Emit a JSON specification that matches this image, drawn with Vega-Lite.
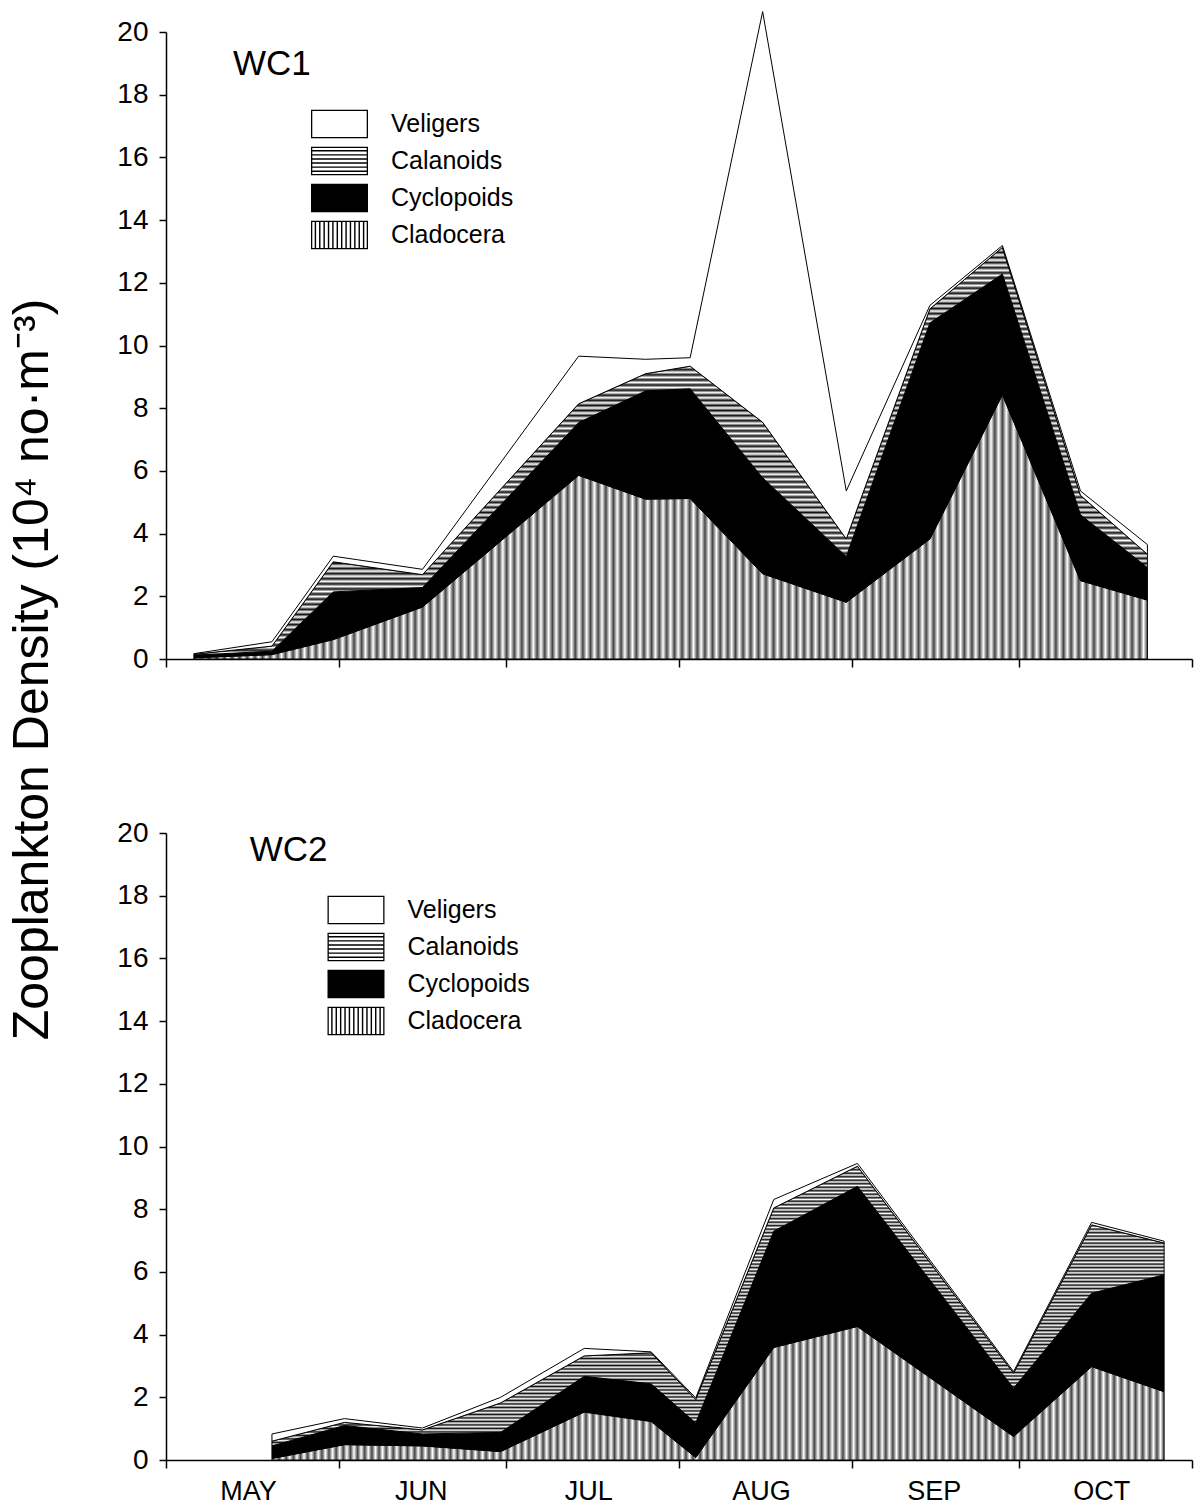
{
  "$schema": "https://vega.github.io/schema/vega-lite/v6.json",
  "padding": {"left": 7, "top": 9, "right": 3, "bottom": 0},
  "bounds": "flush",
  "spacing": 174,
  "resolve": {"scale": {"fill": "independent", "shape": "independent"}, "legend": {"fill": "independent", "shape": "independent"}},
  "datasets": {
    "taxa": [
      {"taxon": "Cladocera", "rank": 1},
      {"taxon": "Cyclopoids", "rank": 2},
      {"taxon": "Calanoids", "rank": 3},
      {"taxon": "Veligers", "rank": 4}
    ],
    "zoo": [
      {"site": "WC1", "date": "1990-05-06", "taxon": "Cladocera", "density": 0.04},
      {"site": "WC1", "date": "1990-05-06", "taxon": "Cyclopoids", "density": 0.08},
      {"site": "WC1", "date": "1990-05-06", "taxon": "Calanoids", "density": 0.03},
      {"site": "WC1", "date": "1990-05-06", "taxon": "Veligers", "density": 0.02},
      {"site": "WC1", "date": "1990-05-20", "taxon": "Cladocera", "density": 0.14},
      {"site": "WC1", "date": "1990-05-20", "taxon": "Cyclopoids", "density": 0.11},
      {"site": "WC1", "date": "1990-05-20", "taxon": "Calanoids", "density": 0.16},
      {"site": "WC1", "date": "1990-05-20", "taxon": "Veligers", "density": 0.14},
      {"site": "WC1", "date": "1990-05-31", "taxon": "Cladocera", "density": 0.62},
      {"site": "WC1", "date": "1990-05-31", "taxon": "Cyclopoids", "density": 1.52},
      {"site": "WC1", "date": "1990-05-31", "taxon": "Calanoids", "density": 0.96},
      {"site": "WC1", "date": "1990-05-31", "taxon": "Veligers", "density": 0.18},
      {"site": "WC1", "date": "1990-06-16", "taxon": "Cladocera", "density": 1.66},
      {"site": "WC1", "date": "1990-06-16", "taxon": "Cyclopoids", "density": 0.62},
      {"site": "WC1", "date": "1990-06-16", "taxon": "Calanoids", "density": 0.41},
      {"site": "WC1", "date": "1990-06-16", "taxon": "Veligers", "density": 0.17},
      {"site": "WC1", "date": "1990-07-14", "taxon": "Cladocera", "density": 5.86},
      {"site": "WC1", "date": "1990-07-14", "taxon": "Cyclopoids", "density": 1.68},
      {"site": "WC1", "date": "1990-07-14", "taxon": "Calanoids", "density": 0.6},
      {"site": "WC1", "date": "1990-07-14", "taxon": "Veligers", "density": 1.52},
      {"site": "WC1", "date": "1990-07-26", "taxon": "Cladocera", "density": 5.1},
      {"site": "WC1", "date": "1990-07-26", "taxon": "Cyclopoids", "density": 3.45},
      {"site": "WC1", "date": "1990-07-26", "taxon": "Calanoids", "density": 0.55},
      {"site": "WC1", "date": "1990-07-26", "taxon": "Veligers", "density": 0.46},
      {"site": "WC1", "date": "1990-08-03", "taxon": "Cladocera", "density": 5.12},
      {"site": "WC1", "date": "1990-08-03", "taxon": "Cyclopoids", "density": 3.5},
      {"site": "WC1", "date": "1990-08-03", "taxon": "Calanoids", "density": 0.72},
      {"site": "WC1", "date": "1990-08-03", "taxon": "Veligers", "density": 0.27},
      {"site": "WC1", "date": "1990-08-16", "taxon": "Cladocera", "density": 2.72},
      {"site": "WC1", "date": "1990-08-16", "taxon": "Cyclopoids", "density": 3.06},
      {"site": "WC1", "date": "1990-08-16", "taxon": "Calanoids", "density": 1.77},
      {"site": "WC1", "date": "1990-08-16", "taxon": "Veligers", "density": 13.1},
      {"site": "WC1", "date": "1990-08-31", "taxon": "Cladocera", "density": 1.81},
      {"site": "WC1", "date": "1990-08-31", "taxon": "Cyclopoids", "density": 1.46},
      {"site": "WC1", "date": "1990-08-31", "taxon": "Calanoids", "density": 0.56},
      {"site": "WC1", "date": "1990-08-31", "taxon": "Veligers", "density": 1.53},
      {"site": "WC1", "date": "1990-09-15", "taxon": "Cladocera", "density": 3.83},
      {"site": "WC1", "date": "1990-09-15", "taxon": "Cyclopoids", "density": 6.89},
      {"site": "WC1", "date": "1990-09-15", "taxon": "Calanoids", "density": 0.45},
      {"site": "WC1", "date": "1990-09-15", "taxon": "Veligers", "density": 0.11},
      {"site": "WC1", "date": "1990-09-28", "taxon": "Cladocera", "density": 8.43},
      {"site": "WC1", "date": "1990-09-28", "taxon": "Cyclopoids", "density": 3.85},
      {"site": "WC1", "date": "1990-09-28", "taxon": "Calanoids", "density": 0.85},
      {"site": "WC1", "date": "1990-09-28", "taxon": "Veligers", "density": 0.06},
      {"site": "WC1", "date": "1990-10-12", "taxon": "Cladocera", "density": 2.5},
      {"site": "WC1", "date": "1990-10-12", "taxon": "Cyclopoids", "density": 2.1},
      {"site": "WC1", "date": "1990-10-12", "taxon": "Calanoids", "density": 0.62},
      {"site": "WC1", "date": "1990-10-12", "taxon": "Veligers", "density": 0.14},
      {"site": "WC1", "date": "1990-10-24", "taxon": "Cladocera", "density": 1.88},
      {"site": "WC1", "date": "1990-10-24", "taxon": "Cyclopoids", "density": 1.04},
      {"site": "WC1", "date": "1990-10-24", "taxon": "Calanoids", "density": 0.42},
      {"site": "WC1", "date": "1990-10-24", "taxon": "Veligers", "density": 0.31},
      {"site": "WC2", "date": "1990-05-20", "taxon": "Cladocera", "density": 0.05},
      {"site": "WC2", "date": "1990-05-20", "taxon": "Cyclopoids", "density": 0.4},
      {"site": "WC2", "date": "1990-05-20", "taxon": "Calanoids", "density": 0.15},
      {"site": "WC2", "date": "1990-05-20", "taxon": "Veligers", "density": 0.23},
      {"site": "WC2", "date": "1990-06-02", "taxon": "Cladocera", "density": 0.49},
      {"site": "WC2", "date": "1990-06-02", "taxon": "Cyclopoids", "density": 0.61},
      {"site": "WC2", "date": "1990-06-02", "taxon": "Calanoids", "density": 0.1},
      {"site": "WC2", "date": "1990-06-02", "taxon": "Veligers", "density": 0.12},
      {"site": "WC2", "date": "1990-06-16", "taxon": "Cladocera", "density": 0.45},
      {"site": "WC2", "date": "1990-06-16", "taxon": "Cyclopoids", "density": 0.38},
      {"site": "WC2", "date": "1990-06-16", "taxon": "Calanoids", "density": 0.13},
      {"site": "WC2", "date": "1990-06-16", "taxon": "Veligers", "density": 0.06},
      {"site": "WC2", "date": "1990-06-30", "taxon": "Cladocera", "density": 0.27},
      {"site": "WC2", "date": "1990-06-30", "taxon": "Cyclopoids", "density": 0.61},
      {"site": "WC2", "date": "1990-06-30", "taxon": "Calanoids", "density": 0.94},
      {"site": "WC2", "date": "1990-06-30", "taxon": "Veligers", "density": 0.18},
      {"site": "WC2", "date": "1990-07-15", "taxon": "Cladocera", "density": 1.53},
      {"site": "WC2", "date": "1990-07-15", "taxon": "Cyclopoids", "density": 1.14},
      {"site": "WC2", "date": "1990-07-15", "taxon": "Calanoids", "density": 0.65},
      {"site": "WC2", "date": "1990-07-15", "taxon": "Veligers", "density": 0.24},
      {"site": "WC2", "date": "1990-07-27", "taxon": "Cladocera", "density": 1.23},
      {"site": "WC2", "date": "1990-07-27", "taxon": "Cyclopoids", "density": 1.2},
      {"site": "WC2", "date": "1990-07-27", "taxon": "Calanoids", "density": 0.99},
      {"site": "WC2", "date": "1990-07-27", "taxon": "Veligers", "density": 0.03},
      {"site": "WC2", "date": "1990-08-04", "taxon": "Cladocera", "density": 0.08},
      {"site": "WC2", "date": "1990-08-04", "taxon": "Cyclopoids", "density": 1.1},
      {"site": "WC2", "date": "1990-08-04", "taxon": "Calanoids", "density": 0.75},
      {"site": "WC2", "date": "1990-08-04", "taxon": "Veligers", "density": 0.05},
      {"site": "WC2", "date": "1990-08-18", "taxon": "Cladocera", "density": 3.59},
      {"site": "WC2", "date": "1990-08-18", "taxon": "Cyclopoids", "density": 3.71},
      {"site": "WC2", "date": "1990-08-18", "taxon": "Calanoids", "density": 0.74},
      {"site": "WC2", "date": "1990-08-18", "taxon": "Veligers", "density": 0.27},
      {"site": "WC2", "date": "1990-09-02", "taxon": "Cladocera", "density": 4.26},
      {"site": "WC2", "date": "1990-09-02", "taxon": "Cyclopoids", "density": 4.47},
      {"site": "WC2", "date": "1990-09-02", "taxon": "Calanoids", "density": 0.64},
      {"site": "WC2", "date": "1990-09-02", "taxon": "Veligers", "density": 0.09},
      {"site": "WC2", "date": "1990-09-30", "taxon": "Cladocera", "density": 0.75},
      {"site": "WC2", "date": "1990-09-30", "taxon": "Cyclopoids", "density": 1.54},
      {"site": "WC2", "date": "1990-09-30", "taxon": "Calanoids", "density": 0.48},
      {"site": "WC2", "date": "1990-09-30", "taxon": "Veligers", "density": 0.05},
      {"site": "WC2", "date": "1990-10-14", "taxon": "Cladocera", "density": 2.98},
      {"site": "WC2", "date": "1990-10-14", "taxon": "Cyclopoids", "density": 2.34},
      {"site": "WC2", "date": "1990-10-14", "taxon": "Calanoids", "density": 2.18},
      {"site": "WC2", "date": "1990-10-14", "taxon": "Veligers", "density": 0.08},
      {"site": "WC2", "date": "1990-10-27", "taxon": "Cladocera", "density": 2.18},
      {"site": "WC2", "date": "1990-10-27", "taxon": "Cyclopoids", "density": 3.73},
      {"site": "WC2", "date": "1990-10-27", "taxon": "Calanoids", "density": 1.01},
      {"site": "WC2", "date": "1990-10-27", "taxon": "Veligers", "density": 0.06}
    ]
  },
  "config": {
    "view": {"stroke": null},
    "font": "Liberation Sans",
    "axis": {"grid": false, "domainColor": "#000", "domainWidth": 1.5, "tickColor": "#000", "tickWidth": 1.5, "labelColor": "#000", "labelFont": "Liberation Sans", "titleFont": "Liberation Sans", "titleColor": "#000", "titleFontWeight": "normal", "labelFlush": false, "labelOverlap": false},
    "legend": {"symbolStrokeColor": "#000", "symbolStrokeWidth": 1.2, "symbolOpacity": 1, "symbolSize": 812, "labelFontSize": 25, "labelFont": "Liberation Sans", "labelColor": "#000", "labelOffset": 36.5, "rowPadding": 3, "padding": 0}
  },
  "vconcat": [
    {
      "width": 1026,
      "height": 627,
      "layer": [
        {
          "data": {"name": "zoo"},
          "transform": [
            {"filter": {"field": "site", "equal": "WC1"}},
            {"lookup": "taxon", "from": {"data": {"name": "taxa"}, "key": "taxon", "fields": ["rank"]}}
          ],
          "mark": {"type": "area", "interpolate": "linear", "stroke": "#000", "strokeWidth": 1, "opacity": 1},
          "encoding": {
            "x": {
              "field": "date", "type": "temporal",
              "scale": {"type": "utc", "domain": [{"year": 1990, "month": 5, "date": 1, "utc": true}, {"year": 1990, "month": 11, "date": 1, "utc": true}]},
              "axis": {
                "title": null, "labels": false, "tickSize": 8,
                "values": [{"year": 1990, "month": 5, "date": 1, "utc": true}, {"year": 1990, "month": 6, "date": 1, "utc": true}, {"year": 1990, "month": 7, "date": 1, "utc": true}, {"year": 1990, "month": 8, "date": 1, "utc": true}, {"year": 1990, "month": 9, "date": 1, "utc": true}, {"year": 1990, "month": 10, "date": 1, "utc": true}, {"year": 1990, "month": 11, "date": 1, "utc": true}]
              }
            },
            "y": {
              "field": "density", "type": "quantitative", "stack": "zero",
              "scale": {"domain": [0, 20], "nice": false},
              "axis": {
                "values": [0,1,2,3,4,5,6,7,8,9,10,11,12,13,14,15,16,17,18,19,20],
                "labelExpr": "datum.value % 2 === 0 ? datum.label : ''",
                "tickSize": 7, "labelPadding": 11, "labelFontSize": 28,
                "title": "Zooplankton Density (10⁴ no·m⁻³)",
                "titleFontSize": 50, "titlePadding": 59, "titleY": 637
              }
            },
            "detail": {"field": "taxon", "type": "nominal"},
            "order": {"field": "rank", "type": "quantitative", "sort": "ascending"},
            "fill": {"condition": [
              {"test": "datum.taxon === 'Calanoids'", "value": {"gradient": "linear", "x1": 0, "y1": 0, "x2": 0, "y2": 1, "stops": [
                {"offset":0,"color":"#111"},{"offset":0.00625,"color":"#fff"},{"offset":0.0125,"color":"#111"},{"offset":0.01875,"color":"#fff"},{"offset":0.025,"color":"#111"},{"offset":0.03125,"color":"#fff"},{"offset":0.0375,"color":"#111"},{"offset":0.04375,"color":"#fff"},
                {"offset":0.05,"color":"#111"},{"offset":0.05625,"color":"#fff"},{"offset":0.0625,"color":"#111"},{"offset":0.06875,"color":"#fff"},{"offset":0.075,"color":"#111"},{"offset":0.08125,"color":"#fff"},{"offset":0.0875,"color":"#111"},{"offset":0.09375,"color":"#fff"},
                {"offset":0.1,"color":"#111"},{"offset":0.10625,"color":"#fff"},{"offset":0.1125,"color":"#111"},{"offset":0.11875,"color":"#fff"},{"offset":0.125,"color":"#111"},{"offset":0.13125,"color":"#fff"},{"offset":0.1375,"color":"#111"},{"offset":0.14375,"color":"#fff"},
                {"offset":0.15,"color":"#111"},{"offset":0.15625,"color":"#fff"},{"offset":0.1625,"color":"#111"},{"offset":0.16875,"color":"#fff"},{"offset":0.175,"color":"#111"},{"offset":0.18125,"color":"#fff"},{"offset":0.1875,"color":"#111"},{"offset":0.19375,"color":"#fff"},
                {"offset":0.2,"color":"#111"},{"offset":0.20625,"color":"#fff"},{"offset":0.2125,"color":"#111"},{"offset":0.21875,"color":"#fff"},{"offset":0.225,"color":"#111"},{"offset":0.23125,"color":"#fff"},{"offset":0.2375,"color":"#111"},{"offset":0.24375,"color":"#fff"},
                {"offset":0.25,"color":"#111"},{"offset":0.25625,"color":"#fff"},{"offset":0.2625,"color":"#111"},{"offset":0.26875,"color":"#fff"},{"offset":0.275,"color":"#111"},{"offset":0.28125,"color":"#fff"},{"offset":0.2875,"color":"#111"},{"offset":0.29375,"color":"#fff"},
                {"offset":0.3,"color":"#111"},{"offset":0.30625,"color":"#fff"},{"offset":0.3125,"color":"#111"},{"offset":0.31875,"color":"#fff"},{"offset":0.325,"color":"#111"},{"offset":0.33125,"color":"#fff"},{"offset":0.3375,"color":"#111"},{"offset":0.34375,"color":"#fff"},
                {"offset":0.35,"color":"#111"},{"offset":0.35625,"color":"#fff"},{"offset":0.3625,"color":"#111"},{"offset":0.36875,"color":"#fff"},{"offset":0.375,"color":"#111"},{"offset":0.38125,"color":"#fff"},{"offset":0.3875,"color":"#111"},{"offset":0.39375,"color":"#fff"},
                {"offset":0.4,"color":"#111"},{"offset":0.40625,"color":"#fff"},{"offset":0.4125,"color":"#111"},{"offset":0.41875,"color":"#fff"},{"offset":0.425,"color":"#111"},{"offset":0.43125,"color":"#fff"},{"offset":0.4375,"color":"#111"},{"offset":0.44375,"color":"#fff"},
                {"offset":0.45,"color":"#111"},{"offset":0.45625,"color":"#fff"},{"offset":0.4625,"color":"#111"},{"offset":0.46875,"color":"#fff"},{"offset":0.475,"color":"#111"},{"offset":0.48125,"color":"#fff"},{"offset":0.4875,"color":"#111"},{"offset":0.49375,"color":"#fff"},
                {"offset":0.5,"color":"#111"},{"offset":0.50625,"color":"#fff"},{"offset":0.5125,"color":"#111"},{"offset":0.51875,"color":"#fff"},{"offset":0.525,"color":"#111"},{"offset":0.53125,"color":"#fff"},{"offset":0.5375,"color":"#111"},{"offset":0.54375,"color":"#fff"},
                {"offset":0.55,"color":"#111"},{"offset":0.55625,"color":"#fff"},{"offset":0.5625,"color":"#111"},{"offset":0.56875,"color":"#fff"},{"offset":0.575,"color":"#111"},{"offset":0.58125,"color":"#fff"},{"offset":0.5875,"color":"#111"},{"offset":0.59375,"color":"#fff"},
                {"offset":0.6,"color":"#111"},{"offset":0.60625,"color":"#fff"},{"offset":0.6125,"color":"#111"},{"offset":0.61875,"color":"#fff"},{"offset":0.625,"color":"#111"},{"offset":0.63125,"color":"#fff"},{"offset":0.6375,"color":"#111"},{"offset":0.64375,"color":"#fff"},
                {"offset":0.65,"color":"#111"},{"offset":0.65625,"color":"#fff"},{"offset":0.6625,"color":"#111"},{"offset":0.66875,"color":"#fff"},{"offset":0.675,"color":"#111"},{"offset":0.68125,"color":"#fff"},{"offset":0.6875,"color":"#111"},{"offset":0.69375,"color":"#fff"},
                {"offset":0.7,"color":"#111"},{"offset":0.70625,"color":"#fff"},{"offset":0.7125,"color":"#111"},{"offset":0.71875,"color":"#fff"},{"offset":0.725,"color":"#111"},{"offset":0.73125,"color":"#fff"},{"offset":0.7375,"color":"#111"},{"offset":0.74375,"color":"#fff"},
                {"offset":0.75,"color":"#111"},{"offset":0.75625,"color":"#fff"},{"offset":0.7625,"color":"#111"},{"offset":0.76875,"color":"#fff"},{"offset":0.775,"color":"#111"},{"offset":0.78125,"color":"#fff"},{"offset":0.7875,"color":"#111"},{"offset":0.79375,"color":"#fff"},
                {"offset":0.8,"color":"#111"},{"offset":0.80625,"color":"#fff"},{"offset":0.8125,"color":"#111"},{"offset":0.81875,"color":"#fff"},{"offset":0.825,"color":"#111"},{"offset":0.83125,"color":"#fff"},{"offset":0.8375,"color":"#111"},{"offset":0.84375,"color":"#fff"},
                {"offset":0.85,"color":"#111"},{"offset":0.85625,"color":"#fff"},{"offset":0.8625,"color":"#111"},{"offset":0.86875,"color":"#fff"},{"offset":0.875,"color":"#111"},{"offset":0.88125,"color":"#fff"},{"offset":0.8875,"color":"#111"},{"offset":0.89375,"color":"#fff"},
                {"offset":0.9,"color":"#111"},{"offset":0.90625,"color":"#fff"},{"offset":0.9125,"color":"#111"},{"offset":0.91875,"color":"#fff"},{"offset":0.925,"color":"#111"},{"offset":0.93125,"color":"#fff"},{"offset":0.9375,"color":"#111"},{"offset":0.94375,"color":"#fff"},
                {"offset":0.95,"color":"#111"},{"offset":0.95625,"color":"#fff"},{"offset":0.9625,"color":"#111"},{"offset":0.96875,"color":"#fff"},{"offset":0.975,"color":"#111"},{"offset":0.98125,"color":"#fff"},{"offset":0.9875,"color":"#111"},{"offset":0.99375,"color":"#fff"},
                {"offset":1,"color":"#111"}
              ]}},
              {"test": "datum.taxon === 'Cladocera'", "value": {"gradient": "linear", "x1": 0, "y1": 0, "x2": 1, "y2": 0, "stops": [
                {"offset":0,"color":"#444"},{"offset":0.004,"color":"#fff"},{"offset":0.008,"color":"#444"},{"offset":0.012,"color":"#fff"},{"offset":0.016,"color":"#444"},{"offset":0.02,"color":"#fff"},{"offset":0.024,"color":"#444"},{"offset":0.028,"color":"#fff"},{"offset":0.032,"color":"#444"},{"offset":0.036,"color":"#fff"},
                {"offset":0.04,"color":"#444"},{"offset":0.044,"color":"#fff"},{"offset":0.048,"color":"#444"},{"offset":0.052,"color":"#fff"},{"offset":0.056,"color":"#444"},{"offset":0.06,"color":"#fff"},{"offset":0.064,"color":"#444"},{"offset":0.068,"color":"#fff"},{"offset":0.072,"color":"#444"},{"offset":0.076,"color":"#fff"},
                {"offset":0.08,"color":"#444"},{"offset":0.084,"color":"#fff"},{"offset":0.088,"color":"#444"},{"offset":0.092,"color":"#fff"},{"offset":0.096,"color":"#444"},{"offset":0.1,"color":"#fff"},{"offset":0.104,"color":"#444"},{"offset":0.108,"color":"#fff"},{"offset":0.112,"color":"#444"},{"offset":0.116,"color":"#fff"},
                {"offset":0.12,"color":"#444"},{"offset":0.124,"color":"#fff"},{"offset":0.128,"color":"#444"},{"offset":0.132,"color":"#fff"},{"offset":0.136,"color":"#444"},{"offset":0.14,"color":"#fff"},{"offset":0.144,"color":"#444"},{"offset":0.148,"color":"#fff"},{"offset":0.152,"color":"#444"},{"offset":0.156,"color":"#fff"},
                {"offset":0.16,"color":"#444"},{"offset":0.164,"color":"#fff"},{"offset":0.168,"color":"#444"},{"offset":0.172,"color":"#fff"},{"offset":0.176,"color":"#444"},{"offset":0.18,"color":"#fff"},{"offset":0.184,"color":"#444"},{"offset":0.188,"color":"#fff"},{"offset":0.192,"color":"#444"},{"offset":0.196,"color":"#fff"},
                {"offset":0.2,"color":"#444"},{"offset":0.204,"color":"#fff"},{"offset":0.208,"color":"#444"},{"offset":0.212,"color":"#fff"},{"offset":0.216,"color":"#444"},{"offset":0.22,"color":"#fff"},{"offset":0.224,"color":"#444"},{"offset":0.228,"color":"#fff"},{"offset":0.232,"color":"#444"},{"offset":0.236,"color":"#fff"},
                {"offset":0.24,"color":"#444"},{"offset":0.244,"color":"#fff"},{"offset":0.248,"color":"#444"},{"offset":0.252,"color":"#fff"},{"offset":0.256,"color":"#444"},{"offset":0.26,"color":"#fff"},{"offset":0.264,"color":"#444"},{"offset":0.268,"color":"#fff"},{"offset":0.272,"color":"#444"},{"offset":0.276,"color":"#fff"},
                {"offset":0.28,"color":"#444"},{"offset":0.284,"color":"#fff"},{"offset":0.288,"color":"#444"},{"offset":0.292,"color":"#fff"},{"offset":0.296,"color":"#444"},{"offset":0.3,"color":"#fff"},{"offset":0.304,"color":"#444"},{"offset":0.308,"color":"#fff"},{"offset":0.312,"color":"#444"},{"offset":0.316,"color":"#fff"},
                {"offset":0.32,"color":"#444"},{"offset":0.324,"color":"#fff"},{"offset":0.328,"color":"#444"},{"offset":0.332,"color":"#fff"},{"offset":0.336,"color":"#444"},{"offset":0.34,"color":"#fff"},{"offset":0.344,"color":"#444"},{"offset":0.348,"color":"#fff"},{"offset":0.352,"color":"#444"},{"offset":0.356,"color":"#fff"},
                {"offset":0.36,"color":"#444"},{"offset":0.364,"color":"#fff"},{"offset":0.368,"color":"#444"},{"offset":0.372,"color":"#fff"},{"offset":0.376,"color":"#444"},{"offset":0.38,"color":"#fff"},{"offset":0.384,"color":"#444"},{"offset":0.388,"color":"#fff"},{"offset":0.392,"color":"#444"},{"offset":0.396,"color":"#fff"},
                {"offset":0.4,"color":"#444"},{"offset":0.404,"color":"#fff"},{"offset":0.408,"color":"#444"},{"offset":0.412,"color":"#fff"},{"offset":0.416,"color":"#444"},{"offset":0.42,"color":"#fff"},{"offset":0.424,"color":"#444"},{"offset":0.428,"color":"#fff"},{"offset":0.432,"color":"#444"},{"offset":0.436,"color":"#fff"},
                {"offset":0.44,"color":"#444"},{"offset":0.444,"color":"#fff"},{"offset":0.448,"color":"#444"},{"offset":0.452,"color":"#fff"},{"offset":0.456,"color":"#444"},{"offset":0.46,"color":"#fff"},{"offset":0.464,"color":"#444"},{"offset":0.468,"color":"#fff"},{"offset":0.472,"color":"#444"},{"offset":0.476,"color":"#fff"},
                {"offset":0.48,"color":"#444"},{"offset":0.484,"color":"#fff"},{"offset":0.488,"color":"#444"},{"offset":0.492,"color":"#fff"},{"offset":0.496,"color":"#444"},{"offset":0.5,"color":"#fff"},{"offset":0.504,"color":"#444"},{"offset":0.508,"color":"#fff"},{"offset":0.512,"color":"#444"},{"offset":0.516,"color":"#fff"},
                {"offset":0.52,"color":"#444"},{"offset":0.524,"color":"#fff"},{"offset":0.528,"color":"#444"},{"offset":0.532,"color":"#fff"},{"offset":0.536,"color":"#444"},{"offset":0.54,"color":"#fff"},{"offset":0.544,"color":"#444"},{"offset":0.548,"color":"#fff"},{"offset":0.552,"color":"#444"},{"offset":0.556,"color":"#fff"},
                {"offset":0.56,"color":"#444"},{"offset":0.564,"color":"#fff"},{"offset":0.568,"color":"#444"},{"offset":0.572,"color":"#fff"},{"offset":0.576,"color":"#444"},{"offset":0.58,"color":"#fff"},{"offset":0.584,"color":"#444"},{"offset":0.588,"color":"#fff"},{"offset":0.592,"color":"#444"},{"offset":0.596,"color":"#fff"},
                {"offset":0.6,"color":"#444"},{"offset":0.604,"color":"#fff"},{"offset":0.608,"color":"#444"},{"offset":0.612,"color":"#fff"},{"offset":0.616,"color":"#444"},{"offset":0.62,"color":"#fff"},{"offset":0.624,"color":"#444"},{"offset":0.628,"color":"#fff"},{"offset":0.632,"color":"#444"},{"offset":0.636,"color":"#fff"},
                {"offset":0.64,"color":"#444"},{"offset":0.644,"color":"#fff"},{"offset":0.648,"color":"#444"},{"offset":0.652,"color":"#fff"},{"offset":0.656,"color":"#444"},{"offset":0.66,"color":"#fff"},{"offset":0.664,"color":"#444"},{"offset":0.668,"color":"#fff"},{"offset":0.672,"color":"#444"},{"offset":0.676,"color":"#fff"},
                {"offset":0.68,"color":"#444"},{"offset":0.684,"color":"#fff"},{"offset":0.688,"color":"#444"},{"offset":0.692,"color":"#fff"},{"offset":0.696,"color":"#444"},{"offset":0.7,"color":"#fff"},{"offset":0.704,"color":"#444"},{"offset":0.708,"color":"#fff"},{"offset":0.712,"color":"#444"},{"offset":0.716,"color":"#fff"},
                {"offset":0.72,"color":"#444"},{"offset":0.724,"color":"#fff"},{"offset":0.728,"color":"#444"},{"offset":0.732,"color":"#fff"},{"offset":0.736,"color":"#444"},{"offset":0.74,"color":"#fff"},{"offset":0.744,"color":"#444"},{"offset":0.748,"color":"#fff"},{"offset":0.752,"color":"#444"},{"offset":0.756,"color":"#fff"},
                {"offset":0.76,"color":"#444"},{"offset":0.764,"color":"#fff"},{"offset":0.768,"color":"#444"},{"offset":0.772,"color":"#fff"},{"offset":0.776,"color":"#444"},{"offset":0.78,"color":"#fff"},{"offset":0.784,"color":"#444"},{"offset":0.788,"color":"#fff"},{"offset":0.792,"color":"#444"},{"offset":0.796,"color":"#fff"},
                {"offset":0.8,"color":"#444"},{"offset":0.804,"color":"#fff"},{"offset":0.808,"color":"#444"},{"offset":0.812,"color":"#fff"},{"offset":0.816,"color":"#444"},{"offset":0.82,"color":"#fff"},{"offset":0.824,"color":"#444"},{"offset":0.828,"color":"#fff"},{"offset":0.832,"color":"#444"},{"offset":0.836,"color":"#fff"},
                {"offset":0.84,"color":"#444"},{"offset":0.844,"color":"#fff"},{"offset":0.848,"color":"#444"},{"offset":0.852,"color":"#fff"},{"offset":0.856,"color":"#444"},{"offset":0.86,"color":"#fff"},{"offset":0.864,"color":"#444"},{"offset":0.868,"color":"#fff"},{"offset":0.872,"color":"#444"},{"offset":0.876,"color":"#fff"},
                {"offset":0.88,"color":"#444"},{"offset":0.884,"color":"#fff"},{"offset":0.888,"color":"#444"},{"offset":0.892,"color":"#fff"},{"offset":0.896,"color":"#444"},{"offset":0.9,"color":"#fff"},{"offset":0.904,"color":"#444"},{"offset":0.908,"color":"#fff"},{"offset":0.912,"color":"#444"},{"offset":0.916,"color":"#fff"},
                {"offset":0.92,"color":"#444"},{"offset":0.924,"color":"#fff"},{"offset":0.928,"color":"#444"},{"offset":0.932,"color":"#fff"},{"offset":0.936,"color":"#444"},{"offset":0.94,"color":"#fff"},{"offset":0.944,"color":"#444"},{"offset":0.948,"color":"#fff"},{"offset":0.952,"color":"#444"},{"offset":0.956,"color":"#fff"},
                {"offset":0.96,"color":"#444"},{"offset":0.964,"color":"#fff"},{"offset":0.968,"color":"#444"},{"offset":0.972,"color":"#fff"},{"offset":0.976,"color":"#444"},{"offset":0.98,"color":"#fff"},{"offset":0.984,"color":"#444"},{"offset":0.988,"color":"#fff"},{"offset":0.992,"color":"#444"},{"offset":0.996,"color":"#fff"},
                {"offset":1,"color":"#444"}
              ]}},
              {"test": "datum.taxon === 'Cyclopoids'", "value": "#000"}
            ], "value": "#fff"}
          }
        },
        {
          "data": {"name": "zoo"},
          "transform": [{"filter": {"field": "site", "equal": "WC1"}}],
          "mark": {"type": "point", "filled": false, "color": "#000", "strokeWidth": 1.2, "opacity": 0},
          "encoding": {
            "x": {"field": "date", "type": "temporal", "scale": {"type": "utc", "domain": [{"year": 1990, "month": 5, "date": 1, "utc": true}, {"year": 1990, "month": 11, "date": 1, "utc": true}]}},
            "y": {"field": "density", "type": "quantitative", "scale": {"domain": [0, 20], "nice": false}},
            "fill": {
              "field": "taxon", "type": "nominal",
              "scale": {"domain": ["Veligers", "Calanoids", "Cyclopoids", "Cladocera"], "range": ["#000", "#000", "#000", "#000"]},
              "legend": {"title": null, "orient": "none", "legendX": 158.5, "legendY": 77, "direction": "vertical", "symbolStrokeColor": "#000", "symbolStrokeWidth": 1.2}
            },
            "shape": {
              "field": "taxon", "type": "nominal",
              "scale": {"domain": ["Veligers", "Calanoids", "Cyclopoids", "Cladocera"], "range": [
                "M-2,-1H2V1H-2Z M-1.91,-0.91V0.91H1.91V-0.91Z",
                "M-2,-1H2V1H-2Z M-1.91,-0.91V0.91H1.91V-0.91Z M-1.91,-0.764H1.91V-0.664H-1.91Z M-1.91,-0.479H1.91V-0.379H-1.91Z M-1.91,-0.193H1.91V-0.093H-1.91Z M-1.91,0.093H1.91V0.193H-1.91Z M-1.91,0.379H1.91V0.479H-1.91Z M-1.91,0.664H1.91V0.764H-1.91Z",
                "M-2,-1H2V1H-2Z",
                "M-2,-1H2V1H-2Z M-1.91,-0.91V0.91H1.91V-0.91Z M-1.742,-0.91H-1.642V0.91H-1.742Z M-1.435,-0.91H-1.335V0.91H-1.435Z M-1.127,-0.91H-1.027V0.91H-1.127Z M-0.819,-0.91H-0.719V0.91H-0.819Z M-0.512,-0.91H-0.412V0.91H-0.512Z M-0.204,-0.91H-0.104V0.91H-0.204Z M0.104,-0.91H0.204V0.91H0.104Z M0.412,-0.91H0.512V0.91H0.412Z M0.719,-0.91H0.819V0.91H0.719Z M1.027,-0.91H1.127V0.91H1.027Z M1.335,-0.91H1.435V0.91H1.335Z M1.642,-0.91H1.742V0.91H1.642Z"
              ]},
              "legend": {"title": null, "orient": "none", "legendX": 158.5, "legendY": 77, "direction": "vertical", "symbolStrokeColor": "#000", "symbolStrokeWidth": 1.2}
            }
          }
        },
        {
          "data": {"values": [{"label": "WC1"}]},
          "mark": {"type": "text", "align": "left", "baseline": "alphabetic", "fontSize": 35, "font": "Liberation Sans", "color": "#000"},
          "encoding": {
            "x": {"datum": {"year": 1990, "month": 5, "date": 13, "utc": true}, "type": "temporal"},
            "y": {"datum": 18.63, "type": "quantitative"},
            "text": {"field": "label", "type": "nominal"}
          }
        }
      ]
    },
    {
      "width": 1026,
      "height": 627,
      "layer": [
        {
          "data": {"name": "zoo"},
          "transform": [
            {"filter": {"field": "site", "equal": "WC2"}},
            {"lookup": "taxon", "from": {"data": {"name": "taxa"}, "key": "taxon", "fields": ["rank"]}}
          ],
          "mark": {"type": "area", "interpolate": "linear", "stroke": "#000", "strokeWidth": 1, "opacity": 1},
          "encoding": {
            "x": {
              "field": "date", "type": "temporal",
              "scale": {"type": "utc", "domain": [{"year": 1990, "month": 5, "date": 1, "utc": true}, {"year": 1990, "month": 11, "date": 1, "utc": true}]},
              "axis": {
                "title": null, "tickSize": 8, "labelFontSize": 27, "labelPadding": 10, "labelOffset": 82,
                "labelExpr": "utcmonth(datum.value) === 10 ? '' : upper(utcFormat(datum.value, '%b'))",
                "values": [{"year": 1990, "month": 5, "date": 1, "utc": true}, {"year": 1990, "month": 6, "date": 1, "utc": true}, {"year": 1990, "month": 7, "date": 1, "utc": true}, {"year": 1990, "month": 8, "date": 1, "utc": true}, {"year": 1990, "month": 9, "date": 1, "utc": true}, {"year": 1990, "month": 10, "date": 1, "utc": true}, {"year": 1990, "month": 11, "date": 1, "utc": true}]
              }
            },
            "y": {
              "field": "density", "type": "quantitative", "stack": "zero",
              "scale": {"domain": [0, 20], "nice": false},
              "axis": {
                "values": [0,1,2,3,4,5,6,7,8,9,10,11,12,13,14,15,16,17,18,19,20],
                "labelExpr": "datum.value % 2 === 0 ? datum.label : ''",
                "tickSize": 7, "labelPadding": 11, "labelFontSize": 28, "title": null
              }
            },
            "detail": {"field": "taxon", "type": "nominal"},
            "order": {"field": "rank", "type": "quantitative", "sort": "ascending"},
            "fill": {"condition": [
              {"test": "datum.taxon === 'Calanoids'", "value": {"gradient": "linear", "x1": 0, "y1": 0, "x2": 0, "y2": 1, "stops": [
                {"offset":0,"color":"#111"},{"offset":0.00625,"color":"#fff"},{"offset":0.0125,"color":"#111"},{"offset":0.01875,"color":"#fff"},{"offset":0.025,"color":"#111"},{"offset":0.03125,"color":"#fff"},{"offset":0.0375,"color":"#111"},{"offset":0.04375,"color":"#fff"},
                {"offset":0.05,"color":"#111"},{"offset":0.05625,"color":"#fff"},{"offset":0.0625,"color":"#111"},{"offset":0.06875,"color":"#fff"},{"offset":0.075,"color":"#111"},{"offset":0.08125,"color":"#fff"},{"offset":0.0875,"color":"#111"},{"offset":0.09375,"color":"#fff"},
                {"offset":0.1,"color":"#111"},{"offset":0.10625,"color":"#fff"},{"offset":0.1125,"color":"#111"},{"offset":0.11875,"color":"#fff"},{"offset":0.125,"color":"#111"},{"offset":0.13125,"color":"#fff"},{"offset":0.1375,"color":"#111"},{"offset":0.14375,"color":"#fff"},
                {"offset":0.15,"color":"#111"},{"offset":0.15625,"color":"#fff"},{"offset":0.1625,"color":"#111"},{"offset":0.16875,"color":"#fff"},{"offset":0.175,"color":"#111"},{"offset":0.18125,"color":"#fff"},{"offset":0.1875,"color":"#111"},{"offset":0.19375,"color":"#fff"},
                {"offset":0.2,"color":"#111"},{"offset":0.20625,"color":"#fff"},{"offset":0.2125,"color":"#111"},{"offset":0.21875,"color":"#fff"},{"offset":0.225,"color":"#111"},{"offset":0.23125,"color":"#fff"},{"offset":0.2375,"color":"#111"},{"offset":0.24375,"color":"#fff"},
                {"offset":0.25,"color":"#111"},{"offset":0.25625,"color":"#fff"},{"offset":0.2625,"color":"#111"},{"offset":0.26875,"color":"#fff"},{"offset":0.275,"color":"#111"},{"offset":0.28125,"color":"#fff"},{"offset":0.2875,"color":"#111"},{"offset":0.29375,"color":"#fff"},
                {"offset":0.3,"color":"#111"},{"offset":0.30625,"color":"#fff"},{"offset":0.3125,"color":"#111"},{"offset":0.31875,"color":"#fff"},{"offset":0.325,"color":"#111"},{"offset":0.33125,"color":"#fff"},{"offset":0.3375,"color":"#111"},{"offset":0.34375,"color":"#fff"},
                {"offset":0.35,"color":"#111"},{"offset":0.35625,"color":"#fff"},{"offset":0.3625,"color":"#111"},{"offset":0.36875,"color":"#fff"},{"offset":0.375,"color":"#111"},{"offset":0.38125,"color":"#fff"},{"offset":0.3875,"color":"#111"},{"offset":0.39375,"color":"#fff"},
                {"offset":0.4,"color":"#111"},{"offset":0.40625,"color":"#fff"},{"offset":0.4125,"color":"#111"},{"offset":0.41875,"color":"#fff"},{"offset":0.425,"color":"#111"},{"offset":0.43125,"color":"#fff"},{"offset":0.4375,"color":"#111"},{"offset":0.44375,"color":"#fff"},
                {"offset":0.45,"color":"#111"},{"offset":0.45625,"color":"#fff"},{"offset":0.4625,"color":"#111"},{"offset":0.46875,"color":"#fff"},{"offset":0.475,"color":"#111"},{"offset":0.48125,"color":"#fff"},{"offset":0.4875,"color":"#111"},{"offset":0.49375,"color":"#fff"},
                {"offset":0.5,"color":"#111"},{"offset":0.50625,"color":"#fff"},{"offset":0.5125,"color":"#111"},{"offset":0.51875,"color":"#fff"},{"offset":0.525,"color":"#111"},{"offset":0.53125,"color":"#fff"},{"offset":0.5375,"color":"#111"},{"offset":0.54375,"color":"#fff"},
                {"offset":0.55,"color":"#111"},{"offset":0.55625,"color":"#fff"},{"offset":0.5625,"color":"#111"},{"offset":0.56875,"color":"#fff"},{"offset":0.575,"color":"#111"},{"offset":0.58125,"color":"#fff"},{"offset":0.5875,"color":"#111"},{"offset":0.59375,"color":"#fff"},
                {"offset":0.6,"color":"#111"},{"offset":0.60625,"color":"#fff"},{"offset":0.6125,"color":"#111"},{"offset":0.61875,"color":"#fff"},{"offset":0.625,"color":"#111"},{"offset":0.63125,"color":"#fff"},{"offset":0.6375,"color":"#111"},{"offset":0.64375,"color":"#fff"},
                {"offset":0.65,"color":"#111"},{"offset":0.65625,"color":"#fff"},{"offset":0.6625,"color":"#111"},{"offset":0.66875,"color":"#fff"},{"offset":0.675,"color":"#111"},{"offset":0.68125,"color":"#fff"},{"offset":0.6875,"color":"#111"},{"offset":0.69375,"color":"#fff"},
                {"offset":0.7,"color":"#111"},{"offset":0.70625,"color":"#fff"},{"offset":0.7125,"color":"#111"},{"offset":0.71875,"color":"#fff"},{"offset":0.725,"color":"#111"},{"offset":0.73125,"color":"#fff"},{"offset":0.7375,"color":"#111"},{"offset":0.74375,"color":"#fff"},
                {"offset":0.75,"color":"#111"},{"offset":0.75625,"color":"#fff"},{"offset":0.7625,"color":"#111"},{"offset":0.76875,"color":"#fff"},{"offset":0.775,"color":"#111"},{"offset":0.78125,"color":"#fff"},{"offset":0.7875,"color":"#111"},{"offset":0.79375,"color":"#fff"},
                {"offset":0.8,"color":"#111"},{"offset":0.80625,"color":"#fff"},{"offset":0.8125,"color":"#111"},{"offset":0.81875,"color":"#fff"},{"offset":0.825,"color":"#111"},{"offset":0.83125,"color":"#fff"},{"offset":0.8375,"color":"#111"},{"offset":0.84375,"color":"#fff"},
                {"offset":0.85,"color":"#111"},{"offset":0.85625,"color":"#fff"},{"offset":0.8625,"color":"#111"},{"offset":0.86875,"color":"#fff"},{"offset":0.875,"color":"#111"},{"offset":0.88125,"color":"#fff"},{"offset":0.8875,"color":"#111"},{"offset":0.89375,"color":"#fff"},
                {"offset":0.9,"color":"#111"},{"offset":0.90625,"color":"#fff"},{"offset":0.9125,"color":"#111"},{"offset":0.91875,"color":"#fff"},{"offset":0.925,"color":"#111"},{"offset":0.93125,"color":"#fff"},{"offset":0.9375,"color":"#111"},{"offset":0.94375,"color":"#fff"},
                {"offset":0.95,"color":"#111"},{"offset":0.95625,"color":"#fff"},{"offset":0.9625,"color":"#111"},{"offset":0.96875,"color":"#fff"},{"offset":0.975,"color":"#111"},{"offset":0.98125,"color":"#fff"},{"offset":0.9875,"color":"#111"},{"offset":0.99375,"color":"#fff"},
                {"offset":1,"color":"#111"}
              ]}},
              {"test": "datum.taxon === 'Cladocera'", "value": {"gradient": "linear", "x1": 0, "y1": 0, "x2": 1, "y2": 0, "stops": [
                {"offset":0,"color":"#444"},{"offset":0.004,"color":"#fff"},{"offset":0.008,"color":"#444"},{"offset":0.012,"color":"#fff"},{"offset":0.016,"color":"#444"},{"offset":0.02,"color":"#fff"},{"offset":0.024,"color":"#444"},{"offset":0.028,"color":"#fff"},{"offset":0.032,"color":"#444"},{"offset":0.036,"color":"#fff"},
                {"offset":0.04,"color":"#444"},{"offset":0.044,"color":"#fff"},{"offset":0.048,"color":"#444"},{"offset":0.052,"color":"#fff"},{"offset":0.056,"color":"#444"},{"offset":0.06,"color":"#fff"},{"offset":0.064,"color":"#444"},{"offset":0.068,"color":"#fff"},{"offset":0.072,"color":"#444"},{"offset":0.076,"color":"#fff"},
                {"offset":0.08,"color":"#444"},{"offset":0.084,"color":"#fff"},{"offset":0.088,"color":"#444"},{"offset":0.092,"color":"#fff"},{"offset":0.096,"color":"#444"},{"offset":0.1,"color":"#fff"},{"offset":0.104,"color":"#444"},{"offset":0.108,"color":"#fff"},{"offset":0.112,"color":"#444"},{"offset":0.116,"color":"#fff"},
                {"offset":0.12,"color":"#444"},{"offset":0.124,"color":"#fff"},{"offset":0.128,"color":"#444"},{"offset":0.132,"color":"#fff"},{"offset":0.136,"color":"#444"},{"offset":0.14,"color":"#fff"},{"offset":0.144,"color":"#444"},{"offset":0.148,"color":"#fff"},{"offset":0.152,"color":"#444"},{"offset":0.156,"color":"#fff"},
                {"offset":0.16,"color":"#444"},{"offset":0.164,"color":"#fff"},{"offset":0.168,"color":"#444"},{"offset":0.172,"color":"#fff"},{"offset":0.176,"color":"#444"},{"offset":0.18,"color":"#fff"},{"offset":0.184,"color":"#444"},{"offset":0.188,"color":"#fff"},{"offset":0.192,"color":"#444"},{"offset":0.196,"color":"#fff"},
                {"offset":0.2,"color":"#444"},{"offset":0.204,"color":"#fff"},{"offset":0.208,"color":"#444"},{"offset":0.212,"color":"#fff"},{"offset":0.216,"color":"#444"},{"offset":0.22,"color":"#fff"},{"offset":0.224,"color":"#444"},{"offset":0.228,"color":"#fff"},{"offset":0.232,"color":"#444"},{"offset":0.236,"color":"#fff"},
                {"offset":0.24,"color":"#444"},{"offset":0.244,"color":"#fff"},{"offset":0.248,"color":"#444"},{"offset":0.252,"color":"#fff"},{"offset":0.256,"color":"#444"},{"offset":0.26,"color":"#fff"},{"offset":0.264,"color":"#444"},{"offset":0.268,"color":"#fff"},{"offset":0.272,"color":"#444"},{"offset":0.276,"color":"#fff"},
                {"offset":0.28,"color":"#444"},{"offset":0.284,"color":"#fff"},{"offset":0.288,"color":"#444"},{"offset":0.292,"color":"#fff"},{"offset":0.296,"color":"#444"},{"offset":0.3,"color":"#fff"},{"offset":0.304,"color":"#444"},{"offset":0.308,"color":"#fff"},{"offset":0.312,"color":"#444"},{"offset":0.316,"color":"#fff"},
                {"offset":0.32,"color":"#444"},{"offset":0.324,"color":"#fff"},{"offset":0.328,"color":"#444"},{"offset":0.332,"color":"#fff"},{"offset":0.336,"color":"#444"},{"offset":0.34,"color":"#fff"},{"offset":0.344,"color":"#444"},{"offset":0.348,"color":"#fff"},{"offset":0.352,"color":"#444"},{"offset":0.356,"color":"#fff"},
                {"offset":0.36,"color":"#444"},{"offset":0.364,"color":"#fff"},{"offset":0.368,"color":"#444"},{"offset":0.372,"color":"#fff"},{"offset":0.376,"color":"#444"},{"offset":0.38,"color":"#fff"},{"offset":0.384,"color":"#444"},{"offset":0.388,"color":"#fff"},{"offset":0.392,"color":"#444"},{"offset":0.396,"color":"#fff"},
                {"offset":0.4,"color":"#444"},{"offset":0.404,"color":"#fff"},{"offset":0.408,"color":"#444"},{"offset":0.412,"color":"#fff"},{"offset":0.416,"color":"#444"},{"offset":0.42,"color":"#fff"},{"offset":0.424,"color":"#444"},{"offset":0.428,"color":"#fff"},{"offset":0.432,"color":"#444"},{"offset":0.436,"color":"#fff"},
                {"offset":0.44,"color":"#444"},{"offset":0.444,"color":"#fff"},{"offset":0.448,"color":"#444"},{"offset":0.452,"color":"#fff"},{"offset":0.456,"color":"#444"},{"offset":0.46,"color":"#fff"},{"offset":0.464,"color":"#444"},{"offset":0.468,"color":"#fff"},{"offset":0.472,"color":"#444"},{"offset":0.476,"color":"#fff"},
                {"offset":0.48,"color":"#444"},{"offset":0.484,"color":"#fff"},{"offset":0.488,"color":"#444"},{"offset":0.492,"color":"#fff"},{"offset":0.496,"color":"#444"},{"offset":0.5,"color":"#fff"},{"offset":0.504,"color":"#444"},{"offset":0.508,"color":"#fff"},{"offset":0.512,"color":"#444"},{"offset":0.516,"color":"#fff"},
                {"offset":0.52,"color":"#444"},{"offset":0.524,"color":"#fff"},{"offset":0.528,"color":"#444"},{"offset":0.532,"color":"#fff"},{"offset":0.536,"color":"#444"},{"offset":0.54,"color":"#fff"},{"offset":0.544,"color":"#444"},{"offset":0.548,"color":"#fff"},{"offset":0.552,"color":"#444"},{"offset":0.556,"color":"#fff"},
                {"offset":0.56,"color":"#444"},{"offset":0.564,"color":"#fff"},{"offset":0.568,"color":"#444"},{"offset":0.572,"color":"#fff"},{"offset":0.576,"color":"#444"},{"offset":0.58,"color":"#fff"},{"offset":0.584,"color":"#444"},{"offset":0.588,"color":"#fff"},{"offset":0.592,"color":"#444"},{"offset":0.596,"color":"#fff"},
                {"offset":0.6,"color":"#444"},{"offset":0.604,"color":"#fff"},{"offset":0.608,"color":"#444"},{"offset":0.612,"color":"#fff"},{"offset":0.616,"color":"#444"},{"offset":0.62,"color":"#fff"},{"offset":0.624,"color":"#444"},{"offset":0.628,"color":"#fff"},{"offset":0.632,"color":"#444"},{"offset":0.636,"color":"#fff"},
                {"offset":0.64,"color":"#444"},{"offset":0.644,"color":"#fff"},{"offset":0.648,"color":"#444"},{"offset":0.652,"color":"#fff"},{"offset":0.656,"color":"#444"},{"offset":0.66,"color":"#fff"},{"offset":0.664,"color":"#444"},{"offset":0.668,"color":"#fff"},{"offset":0.672,"color":"#444"},{"offset":0.676,"color":"#fff"},
                {"offset":0.68,"color":"#444"},{"offset":0.684,"color":"#fff"},{"offset":0.688,"color":"#444"},{"offset":0.692,"color":"#fff"},{"offset":0.696,"color":"#444"},{"offset":0.7,"color":"#fff"},{"offset":0.704,"color":"#444"},{"offset":0.708,"color":"#fff"},{"offset":0.712,"color":"#444"},{"offset":0.716,"color":"#fff"},
                {"offset":0.72,"color":"#444"},{"offset":0.724,"color":"#fff"},{"offset":0.728,"color":"#444"},{"offset":0.732,"color":"#fff"},{"offset":0.736,"color":"#444"},{"offset":0.74,"color":"#fff"},{"offset":0.744,"color":"#444"},{"offset":0.748,"color":"#fff"},{"offset":0.752,"color":"#444"},{"offset":0.756,"color":"#fff"},
                {"offset":0.76,"color":"#444"},{"offset":0.764,"color":"#fff"},{"offset":0.768,"color":"#444"},{"offset":0.772,"color":"#fff"},{"offset":0.776,"color":"#444"},{"offset":0.78,"color":"#fff"},{"offset":0.784,"color":"#444"},{"offset":0.788,"color":"#fff"},{"offset":0.792,"color":"#444"},{"offset":0.796,"color":"#fff"},
                {"offset":0.8,"color":"#444"},{"offset":0.804,"color":"#fff"},{"offset":0.808,"color":"#444"},{"offset":0.812,"color":"#fff"},{"offset":0.816,"color":"#444"},{"offset":0.82,"color":"#fff"},{"offset":0.824,"color":"#444"},{"offset":0.828,"color":"#fff"},{"offset":0.832,"color":"#444"},{"offset":0.836,"color":"#fff"},
                {"offset":0.84,"color":"#444"},{"offset":0.844,"color":"#fff"},{"offset":0.848,"color":"#444"},{"offset":0.852,"color":"#fff"},{"offset":0.856,"color":"#444"},{"offset":0.86,"color":"#fff"},{"offset":0.864,"color":"#444"},{"offset":0.868,"color":"#fff"},{"offset":0.872,"color":"#444"},{"offset":0.876,"color":"#fff"},
                {"offset":0.88,"color":"#444"},{"offset":0.884,"color":"#fff"},{"offset":0.888,"color":"#444"},{"offset":0.892,"color":"#fff"},{"offset":0.896,"color":"#444"},{"offset":0.9,"color":"#fff"},{"offset":0.904,"color":"#444"},{"offset":0.908,"color":"#fff"},{"offset":0.912,"color":"#444"},{"offset":0.916,"color":"#fff"},
                {"offset":0.92,"color":"#444"},{"offset":0.924,"color":"#fff"},{"offset":0.928,"color":"#444"},{"offset":0.932,"color":"#fff"},{"offset":0.936,"color":"#444"},{"offset":0.94,"color":"#fff"},{"offset":0.944,"color":"#444"},{"offset":0.948,"color":"#fff"},{"offset":0.952,"color":"#444"},{"offset":0.956,"color":"#fff"},
                {"offset":0.96,"color":"#444"},{"offset":0.964,"color":"#fff"},{"offset":0.968,"color":"#444"},{"offset":0.972,"color":"#fff"},{"offset":0.976,"color":"#444"},{"offset":0.98,"color":"#fff"},{"offset":0.984,"color":"#444"},{"offset":0.988,"color":"#fff"},{"offset":0.992,"color":"#444"},{"offset":0.996,"color":"#fff"},
                {"offset":1,"color":"#444"}
              ]}},
              {"test": "datum.taxon === 'Cyclopoids'", "value": "#000"}
            ], "value": "#fff"}
          }
        },
        {
          "data": {"name": "zoo"},
          "transform": [{"filter": {"field": "site", "equal": "WC2"}}],
          "mark": {"type": "point", "filled": false, "color": "#000", "strokeWidth": 1.2, "opacity": 0},
          "encoding": {
            "x": {"field": "date", "type": "temporal", "scale": {"type": "utc", "domain": [{"year": 1990, "month": 5, "date": 1, "utc": true}, {"year": 1990, "month": 11, "date": 1, "utc": true}]}},
            "y": {"field": "density", "type": "quantitative", "scale": {"domain": [0, 20], "nice": false}},
            "fill": {
              "field": "taxon", "type": "nominal",
              "scale": {"domain": ["Veligers", "Calanoids", "Cyclopoids", "Cladocera"], "range": ["#000", "#000", "#000", "#000"]},
              "legend": {"title": null, "orient": "none", "legendX": 175, "legendY": 62, "direction": "vertical", "symbolStrokeColor": "#000", "symbolStrokeWidth": 1.2}
            },
            "shape": {
              "field": "taxon", "type": "nominal",
              "scale": {"domain": ["Veligers", "Calanoids", "Cyclopoids", "Cladocera"], "range": [
                "M-2,-1H2V1H-2Z M-1.91,-0.91V0.91H1.91V-0.91Z",
                "M-2,-1H2V1H-2Z M-1.91,-0.91V0.91H1.91V-0.91Z M-1.91,-0.764H1.91V-0.664H-1.91Z M-1.91,-0.479H1.91V-0.379H-1.91Z M-1.91,-0.193H1.91V-0.093H-1.91Z M-1.91,0.093H1.91V0.193H-1.91Z M-1.91,0.379H1.91V0.479H-1.91Z M-1.91,0.664H1.91V0.764H-1.91Z",
                "M-2,-1H2V1H-2Z",
                "M-2,-1H2V1H-2Z M-1.91,-0.91V0.91H1.91V-0.91Z M-1.742,-0.91H-1.642V0.91H-1.742Z M-1.435,-0.91H-1.335V0.91H-1.435Z M-1.127,-0.91H-1.027V0.91H-1.127Z M-0.819,-0.91H-0.719V0.91H-0.819Z M-0.512,-0.91H-0.412V0.91H-0.512Z M-0.204,-0.91H-0.104V0.91H-0.204Z M0.104,-0.91H0.204V0.91H0.104Z M0.412,-0.91H0.512V0.91H0.412Z M0.719,-0.91H0.819V0.91H0.719Z M1.027,-0.91H1.127V0.91H1.027Z M1.335,-0.91H1.435V0.91H1.335Z M1.642,-0.91H1.742V0.91H1.642Z"
              ]},
              "legend": {"title": null, "orient": "none", "legendX": 175, "legendY": 62, "direction": "vertical", "symbolStrokeColor": "#000", "symbolStrokeWidth": 1.2}
            }
          }
        },
        {
          "data": {"values": [{"label": "WC2"}]},
          "mark": {"type": "text", "align": "left", "baseline": "alphabetic", "fontSize": 35, "font": "Liberation Sans", "color": "#000"},
          "encoding": {
            "x": {"datum": {"year": 1990, "month": 5, "date": 16, "utc": true}, "type": "temporal"},
            "y": {"datum": 19.1, "type": "quantitative"},
            "text": {"field": "label", "type": "nominal"}
          }
        }
      ]
    }
  ]
}
